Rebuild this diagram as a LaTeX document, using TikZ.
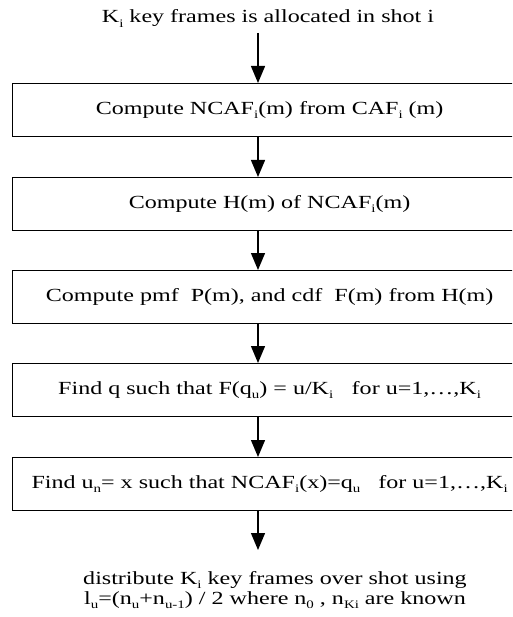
\documentclass[tikz,border=0pt]{standalone}
\usepackage{fontspec}
\setmainfont[FakeStretch=1.3]{Liberation Serif}
\usetikzlibrary{arrows.meta}
\tikzset{
  stepbox/.style={draw, line width=1.2pt, minimum width=514pt, minimum height=53pt,
    inner sep=0pt, anchor=north west},
  arr/.style={line width=1.3pt, -{Triangle[length=17pt,width=14pt]}},
  lbl/.style={inner sep=0pt, anchor=base}
}
% lowered small index, as in K_i
\newcommand{\sbs}[1]{\raisebox{-0.22em}{\fontsize{11.5}{11.5}\selectfont #1}}
\begin{document}
\begin{tikzpicture}[x=1pt,y=-1pt,font=\fontsize{18.5}{18}\selectfont]
\useasboundingbox (0,0) rectangle (512,617);
\clip (0,0) rectangle (512,617);
\fill[white] (0,0) rectangle (512,617);

\node[lbl] (top) at (268,23) {K\sbs{i} key frames is allocated in shot i};
\coordinate (s0) at (258,33);

\node[stepbox] (b1) at (12,83)  {Compute NCAF\sbs{i}(m) from CAF\sbs{i} (m)};
\node[stepbox] (b2) at (12,177) {Compute H(m) of NCAF\sbs{i}(m)};
\node[stepbox] (b3) at (12,270) {Compute pmf\ \ P(m), and cdf\ \ F(m) from H(m)};
\node[stepbox] (b4) at (12,363) {Find q such that F(q\sbs{u}) = u/K\sbs{i}\quad for u=1,\ldots,K\sbs{i}};
\node[stepbox] (b5) at (12,457) {Find u\sbs{n}= x such that NCAF\sbs{i}(x)=q\sbs{u}\ \ \ for u=1,\ldots,K\sbs{i}};

\coordinate (e6) at (258,550);
\node[lbl, align=center] (bt) at (275,604)
  {distribute K\sbs{i} key frames over shot using\\[2pt]
   l\sbs{u}=(n\sbs{u}+n\sbs{u-1}) / 2 where n\sbs{0} , n\sbs{Ki} are known};

\draw[arr] (s0) -- (b1.north -| s0);
\draw[arr] (b1.south -| s0) -- (b2.north -| s0);
\draw[arr] (b2.south -| s0) -- (b3.north -| s0);
\draw[arr] (b3.south -| s0) -- (b4.north -| s0);
\draw[arr] (b4.south -| s0) -- (b5.north -| s0);
\draw[arr] (b5.south -| s0) -- (e6);
\end{tikzpicture}
\end{document}
